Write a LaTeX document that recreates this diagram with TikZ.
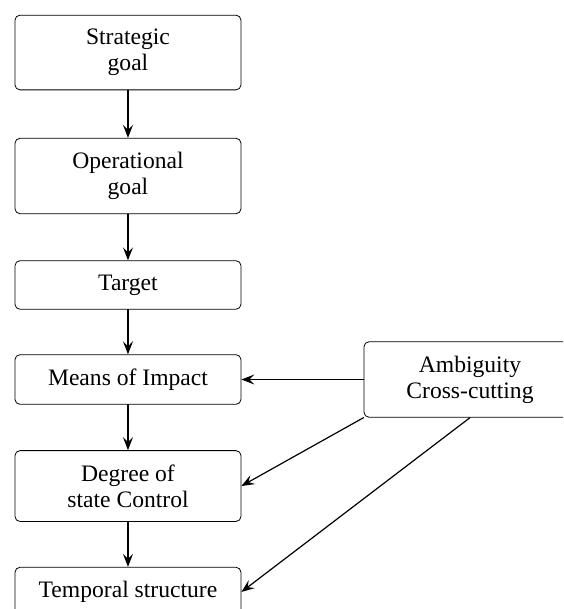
\documentclass[tikz,border=0pt]{standalone}
\usepackage{fontspec}
\setmainfont{Liberation Serif}
\usetikzlibrary{arrows.meta}
\begin{document}
\begin{tikzpicture}[line join=round, line cap=round,>={Stealth[length=6.5pt,width=5pt,inset=2.5pt]}]
	\tikzset{blok/.style={draw, rounded corners=2.5pt, align=center, minimum width=113pt, inner ysep=7pt, font=\fontsize{11.8}{13}\selectfont}}
	\useasboundingbox (0,0) rectangle (9.894,-10.702);
	\clip (0,0) rectangle (9.894,-10.702);
	\node[blok] (strat) at (2.249,-0.923) {Strategic\\goal};
	\node[blok] (oper) at (2.249,-3.093) {Operational\\goal};
	\node[blok] (target) at (2.249,-5.008) {Target};
	\node[blok] (means) at (2.249,-6.669) {Means of Impact};
	\node[blok] (degree) at (2.249,-8.541) {Degree of\\state Control};
	\node[blok] (temporal) at (2.249,-10.403) {Temporal structure};
	\node[blok, minimum width=106pt] (ambig) at (8.259,-6.669) {Ambiguity\\Cross-cutting};
	\draw[->,semithick] (strat) -- (oper);
	\draw[->,semithick] (oper) -- (target);
	\draw[->,semithick] (target) -- (means);
	\draw[->,semithick] (means) -- (degree);
	\draw[->,semithick] (degree) -- (temporal);
	\draw[->,semithick] (ambig.west) -- (means.east);
	\draw[->,semithick] (ambig.south west) -- (degree.east);
	\draw[->,semithick] (ambig.south) -- (temporal.east);
\end{tikzpicture}
\end{document}
